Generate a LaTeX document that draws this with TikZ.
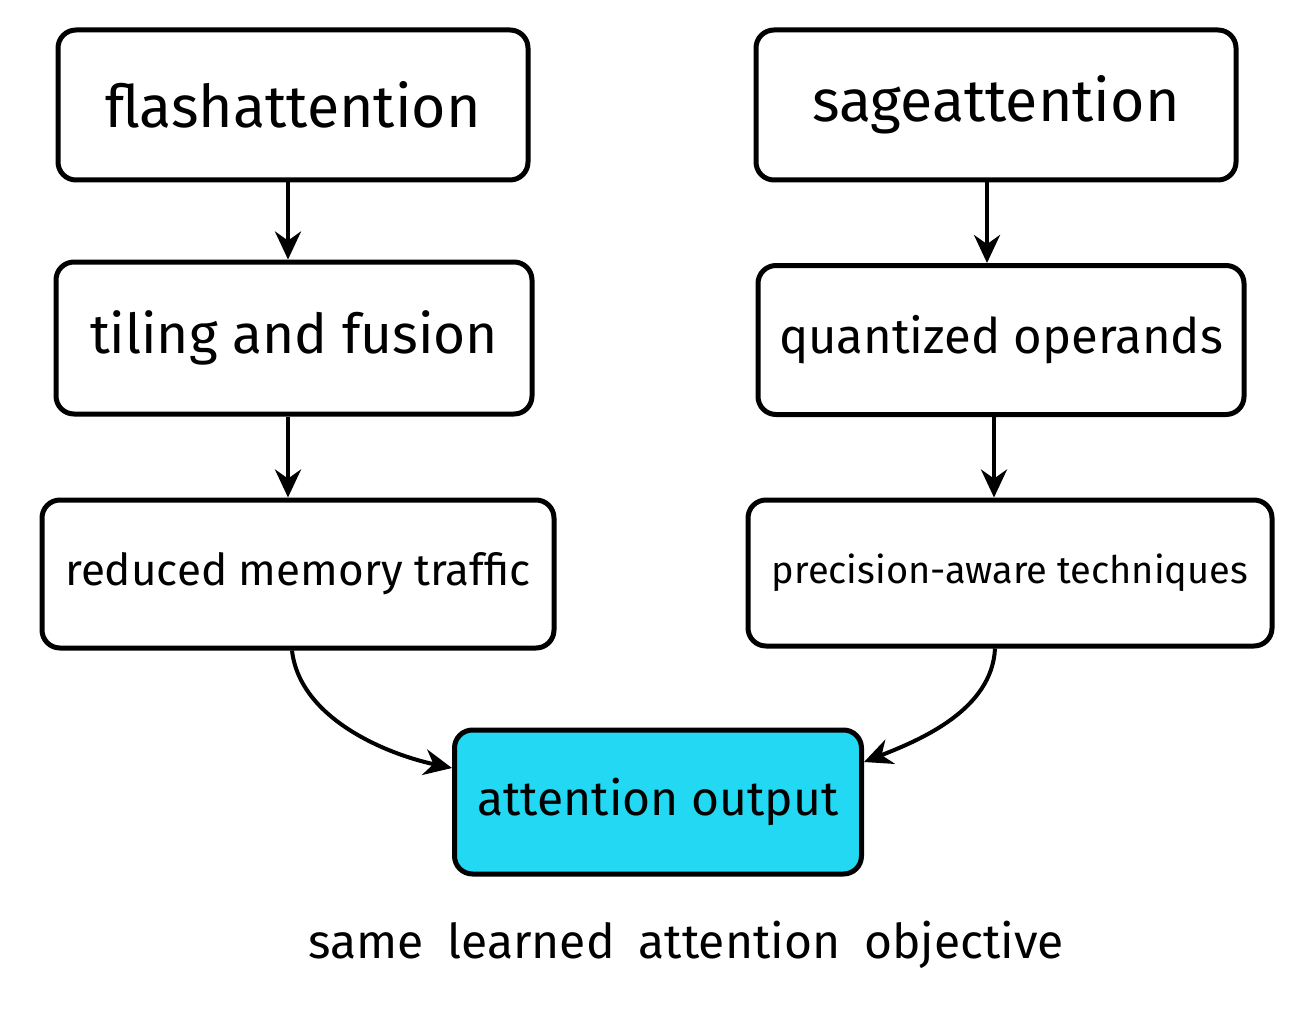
\documentclass[tikz,border=0pt]{standalone}
\usepackage{fontspec}
\setmainfont{Fira Sans}
\usetikzlibrary{arrows.meta}
\definecolor{cy}{HTML}{22D8F2}
\begin{document}
\begin{tikzpicture}[x=1pt,y=-1pt,
  box/.style={draw=black,line width=5pt,rounded corners=18pt,anchor=center},
  arr/.style={line width=4pt,-{Stealth[length=28pt,width=26pt]}}]
\useasboundingbox (0,0) rectangle (1314,1019);
\node[box,minimum width=470pt,minimum height=150pt,font=\fontsize{59}{70}\selectfont] (fa) at (293,105) {flashattention};
\node[box,minimum width=480pt,minimum height=150pt,font=\fontsize{59}{70}\selectfont] (sa) at (996,105) {sageattention};
\node[box,minimum width=476pt,minimum height=152pt,font=\fontsize{55}{66}\selectfont] (tf) at (294,338) {tiling and fusion};
\node[box,minimum width=486pt,minimum height=149pt,font=\fontsize{49}{60}\selectfont] (qo) at (1001,340) {quantized operands};
\node[box,minimum width=512pt,minimum height=148pt,font=\fontsize{44}{54}\selectfont] (rm) at (298,574) {reduced memory traffic};
\node[box,minimum width=524pt,minimum height=146pt,font=\fontsize{38}{48}\selectfont] (pa) at (1010,573) {precision-aware techniques};
\node[box,fill=cy,minimum width=407pt,minimum height=144pt,font=\fontsize{48}{58}\selectfont] (ao) at (658,802) {attention output};
\node[font=\fontsize{48}{58}\selectfont] (cap) at (686,945) {same\enspace learned\enspace attention\enspace objective};
\draw[arr] (fa.south -| 288,0) -- (tf.north -| 288,0);
\draw[arr] (tf.south -| 288,0) -- (rm.north -| 288,0);
\draw[arr] (sa.south -| 987,0) -- (qo.north -| 987,0);
\draw[arr] (qo.south -| 994,0) -- (pa.north -| 994,0);
\draw[arr] (rm.south -| 292,0) .. controls (300,720) and (390,755) .. (ao.west |- 0,768);
\draw[arr] (pa.south -| 995,0) .. controls (992,710) and (920,740) .. (ao.east |- 0,762);
\end{tikzpicture}
\end{document}
